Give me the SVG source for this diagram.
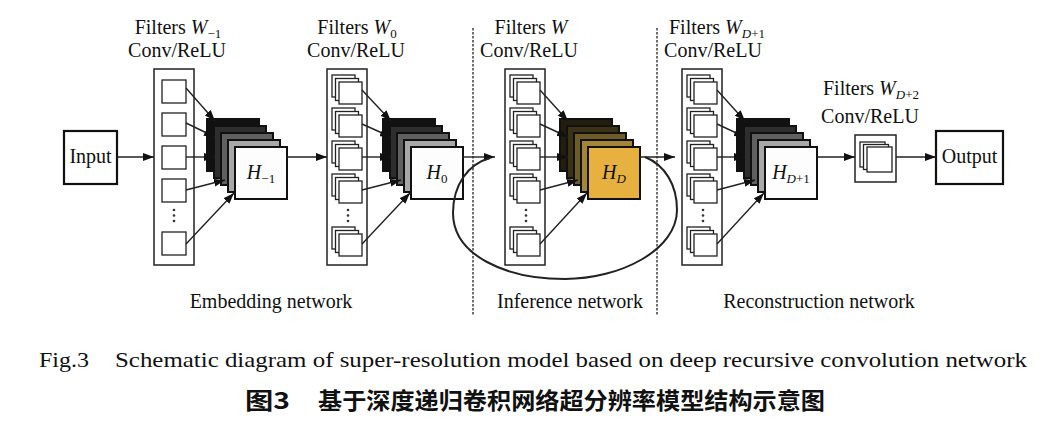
<svg xmlns="http://www.w3.org/2000/svg" width="1052" height="424" viewBox="0 0 1052 424">
<style>
text{font-family:"Liberation Serif","Times New Roman",serif;fill:#111;}
.lbl{font-size:20px;}
.it{font-style:italic;}
.sub{font-size:13px;}
.col{fill:#fff;stroke:#222;stroke-width:1.5;}
.sq{fill:#fff;stroke:#222;stroke-width:1.3;}
.lay{stroke:#111;stroke-width:2;}
.g1{fill:#111;}.g2{fill:#2e2e2e;}.g3{fill:#606060;}.g4{fill:#a8a8a8;}.g5{fill:#fdfdfd;}
.y1{fill:#221d0c;}.y2{fill:#3b3215;}.y3{fill:#6d5b28;}.y4{fill:#a48639;}.y5{fill:#e7b13f;}
.io{fill:#fff;stroke:#111;stroke-width:2.2;}
.dot{fill:#333;}
.conn{stroke:#222;stroke-width:1.4;fill:none;}
.dash{stroke:#333;stroke-width:1.4;stroke-dasharray:2.5 1.5;fill:none;}
.cap{font-size:21px;}
.cjk{font-family:"Noto Sans CJK SC","Noto Sans CJK JP",sans-serif;font-weight:bold;font-size:23px;}
</style>
<defs>
<marker id="ah" markerUnits="userSpaceOnUse" markerWidth="11" markerHeight="8" refX="11" refY="4" orient="auto">
<path d="M0,0 L11,4 L0,8 z" fill="#111"/>
</marker>
</defs>

<!-- dashed separators -->
<line class="dash" x1="473" y1="28" x2="473" y2="315"/>
<line class="dash" x1="657" y1="28" x2="657" y2="315"/>

<g id="input">
<rect class="io" x="64" y="131" width="53" height="53"/>
<text class="lbl" x="90.5" y="163" text-anchor="middle">Input</text>
</g>

<g id="filters-w-1">
<text class="lbl" x="178" y="34" text-anchor="middle">Filters <tspan class="it">W</tspan><tspan class="sub" dy="4">−1</tspan></text>
<text class="lbl" x="177" y="57" text-anchor="middle">Conv/ReLU</text>
<rect class="col" x="154" y="69" width="40" height="196"/>
<rect class="sq" x="162" y="80" width="24" height="23"/>
<rect class="sq" x="162" y="113" width="24" height="23"/>
<rect class="sq" x="162" y="146" width="24" height="23"/>
<rect class="sq" x="162" y="179" width="24" height="23"/>
<rect class="sq" x="162" y="232" width="24" height="23"/>
<circle class="dot" cx="174" cy="210" r="1.3"/><circle class="dot" cx="174" cy="215.5" r="1.3"/><circle class="dot" cx="174" cy="221" r="1.3"/>
</g>

<g id="stack-h-1">
<rect class="lay g1" x="207" y="119" width="52" height="52"/>
<rect class="lay g2" x="214" y="126" width="52" height="52"/>
<rect class="lay g3" x="221" y="133" width="52" height="52"/>
<rect class="lay g4" x="228" y="140" width="52" height="52"/>
<rect class="lay g5" x="235" y="147" width="52" height="52"/>
<text class="lbl" x="261" y="179" text-anchor="middle"><tspan class="it">H</tspan><tspan class="sub" dy="4">−1</tspan></text>
</g>

<g id="filters-w0">
<text class="lbl" x="357" y="34" text-anchor="middle">Filters <tspan class="it">W</tspan><tspan class="sub" dy="4">0</tspan></text>
<text class="lbl" x="356" y="57" text-anchor="middle">Conv/ReLU</text>
<rect class="col" x="327" y="69" width="40" height="196"/>
<g transform="translate(327,0)">
<rect class="sq" x="5" y="75" width="23" height="22"/><rect class="sq" x="8.5" y="78.5" width="23" height="22"/><rect class="sq" x="12" y="82" width="23" height="22"/>
<rect class="sq" x="5" y="108" width="23" height="22"/><rect class="sq" x="8.5" y="111.5" width="23" height="22"/><rect class="sq" x="12" y="115" width="23" height="22"/>
<rect class="sq" x="5" y="141" width="23" height="22"/><rect class="sq" x="8.5" y="144.5" width="23" height="22"/><rect class="sq" x="12" y="148" width="23" height="22"/>
<rect class="sq" x="5" y="174" width="23" height="22"/><rect class="sq" x="8.5" y="177.5" width="23" height="22"/><rect class="sq" x="12" y="181" width="23" height="22"/>
<rect class="sq" x="5" y="227" width="23" height="22"/><rect class="sq" x="8.5" y="230.5" width="23" height="22"/><rect class="sq" x="12" y="234" width="23" height="22"/>
<circle class="dot" cx="21" cy="210" r="1.3"/><circle class="dot" cx="21" cy="215.5" r="1.3"/><circle class="dot" cx="21" cy="221" r="1.3"/>
</g>
</g>

<g id="stack-h0">
<rect class="lay g1" x="383" y="119" width="52" height="52"/>
<rect class="lay g2" x="390" y="126" width="52" height="52"/>
<rect class="lay g3" x="397" y="133" width="52" height="52"/>
<rect class="lay g4" x="404" y="140" width="52" height="52"/>
<rect class="lay g5" x="411" y="147" width="52" height="52"/>
<text class="lbl" x="437" y="179" text-anchor="middle"><tspan class="it">H</tspan><tspan class="sub" dy="4">0</tspan></text>
</g>

<g id="filters-w">
<text class="lbl" x="531" y="34" text-anchor="middle">Filters <tspan class="it">W</tspan></text>
<text class="lbl" x="529" y="57" text-anchor="middle">Conv/ReLU</text>
<rect class="col" x="505" y="69" width="40" height="196"/>
<g transform="translate(505,0)">
<rect class="sq" x="5" y="75" width="23" height="22"/><rect class="sq" x="8.5" y="78.5" width="23" height="22"/><rect class="sq" x="12" y="82" width="23" height="22"/>
<rect class="sq" x="5" y="108" width="23" height="22"/><rect class="sq" x="8.5" y="111.5" width="23" height="22"/><rect class="sq" x="12" y="115" width="23" height="22"/>
<rect class="sq" x="5" y="141" width="23" height="22"/><rect class="sq" x="8.5" y="144.5" width="23" height="22"/><rect class="sq" x="12" y="148" width="23" height="22"/>
<rect class="sq" x="5" y="174" width="23" height="22"/><rect class="sq" x="8.5" y="177.5" width="23" height="22"/><rect class="sq" x="12" y="181" width="23" height="22"/>
<rect class="sq" x="5" y="227" width="23" height="22"/><rect class="sq" x="8.5" y="230.5" width="23" height="22"/><rect class="sq" x="12" y="234" width="23" height="22"/>
<circle class="dot" cx="21" cy="210" r="1.3"/><circle class="dot" cx="21" cy="215.5" r="1.3"/><circle class="dot" cx="21" cy="221" r="1.3"/>
</g>
</g>

<g id="stack-hd">
<rect class="lay y1" x="560" y="119" width="52" height="52"/>
<rect class="lay y2" x="567" y="126" width="52" height="52"/>
<rect class="lay y3" x="574" y="133" width="52" height="52"/>
<rect class="lay y4" x="581" y="140" width="52" height="52"/>
<rect class="lay y5" x="588" y="147" width="52" height="52"/>
<text class="lbl" x="614" y="179" text-anchor="middle"><tspan class="it">H</tspan><tspan class="sub it" dy="4">D</tspan></text>
</g>

<g id="filters-wd1">
<text class="lbl" x="717" y="34" text-anchor="middle">Filters <tspan class="it">W</tspan><tspan class="sub" dy="4"><tspan class="it">D</tspan>+1</tspan></text>
<text class="lbl" x="713" y="57" text-anchor="middle">Conv/ReLU</text>
<rect class="col" x="682" y="69" width="40" height="196"/>
<g transform="translate(682,0)">
<rect class="sq" x="5" y="75" width="23" height="22"/><rect class="sq" x="8.5" y="78.5" width="23" height="22"/><rect class="sq" x="12" y="82" width="23" height="22"/>
<rect class="sq" x="5" y="108" width="23" height="22"/><rect class="sq" x="8.5" y="111.5" width="23" height="22"/><rect class="sq" x="12" y="115" width="23" height="22"/>
<rect class="sq" x="5" y="141" width="23" height="22"/><rect class="sq" x="8.5" y="144.5" width="23" height="22"/><rect class="sq" x="12" y="148" width="23" height="22"/>
<rect class="sq" x="5" y="174" width="23" height="22"/><rect class="sq" x="8.5" y="177.5" width="23" height="22"/><rect class="sq" x="12" y="181" width="23" height="22"/>
<rect class="sq" x="5" y="227" width="23" height="22"/><rect class="sq" x="8.5" y="230.5" width="23" height="22"/><rect class="sq" x="12" y="234" width="23" height="22"/>
<circle class="dot" cx="21" cy="210" r="1.3"/><circle class="dot" cx="21" cy="215.5" r="1.3"/><circle class="dot" cx="21" cy="221" r="1.3"/>
</g>
</g>

<g id="stack-hd1">
<rect class="lay g1" x="737" y="119" width="52" height="52"/>
<rect class="lay g2" x="744" y="126" width="52" height="52"/>
<rect class="lay g3" x="751" y="133" width="52" height="52"/>
<rect class="lay g4" x="758" y="140" width="52" height="52"/>
<rect class="lay g5" x="765" y="147" width="52" height="52"/>
<text class="lbl" x="791" y="179" text-anchor="middle"><tspan class="it">H</tspan><tspan class="sub" dy="4"><tspan class="it">D</tspan>+1</tspan></text>
</g>

<g id="filters-wd2">
<text class="lbl" x="871" y="95" text-anchor="middle">Filters <tspan class="it">W</tspan><tspan class="sub" dy="4"><tspan class="it">D</tspan>+2</tspan></text>
<text class="lbl" x="870" y="123" text-anchor="middle">Conv/ReLU</text>
<rect class="col" x="855" y="135" width="41" height="47"/>
<rect class="sq" x="860" y="142" width="25" height="25"/>
<rect class="sq" x="863.5" y="144.5" width="25" height="25"/>
<rect class="sq" x="867" y="147" width="25" height="25"/>
</g>

<g id="output">
<rect class="io" x="936" y="131" width="67" height="53"/>
<text class="lbl" x="969.5" y="163" text-anchor="middle">Output</text>
</g>

<g id="connectors">
<line class="conn" x1="117" y1="157" x2="154" y2="157" marker-end="url(#ah)"/>
<line class="conn" x1="287" y1="157" x2="327" y2="157" marker-end="url(#ah)"/>
<line class="conn" x1="463" y1="157" x2="495" y2="157" marker-end="url(#ah)"/>
<line class="conn" x1="640" y1="157" x2="675" y2="157" marker-end="url(#ah)"/>
<line class="conn" x1="817" y1="157" x2="855" y2="157" marker-end="url(#ah)"/>
<line class="conn" x1="896" y1="157" x2="936" y2="157" marker-end="url(#ah)"/>
<!-- recursion loop -->
<path class="conn" style="stroke-width:2" d="M645,157 C665,165 677,185 677,210 C677,250 620,279 565,279 C505,279 453,255 453,213 C453,185 468,164 490,158"/>
<!-- embedding W-1 -->
<line class="conn" x1="186" y1="88" x2="215" y2="121" marker-end="url(#ah)"/>
<line class="conn" x1="186" y1="123" x2="215" y2="137" marker-end="url(#ah)"/>
<line class="conn" x1="186" y1="157" x2="215" y2="157" marker-end="url(#ah)"/>
<line class="conn" x1="186" y1="190" x2="225" y2="180" marker-end="url(#ah)"/>
<line class="conn" x1="186" y1="244" x2="234" y2="193" marker-end="url(#ah)"/>
<!-- W0 -->
<line class="conn" x1="362" y1="90" x2="391" y2="121" marker-end="url(#ah)"/>
<line class="conn" x1="362" y1="124" x2="391" y2="137" marker-end="url(#ah)"/>
<line class="conn" x1="362" y1="157" x2="391" y2="157" marker-end="url(#ah)"/>
<line class="conn" x1="362" y1="190" x2="401" y2="180" marker-end="url(#ah)"/>
<line class="conn" x1="362" y1="244" x2="410" y2="193" marker-end="url(#ah)"/>
<!-- W -->
<line class="conn" x1="540" y1="90" x2="568" y2="121" marker-end="url(#ah)"/>
<line class="conn" x1="540" y1="124" x2="568" y2="137" marker-end="url(#ah)"/>
<line class="conn" x1="540" y1="157" x2="568" y2="157" marker-end="url(#ah)"/>
<line class="conn" x1="540" y1="190" x2="578" y2="180" marker-end="url(#ah)"/>
<line class="conn" x1="540" y1="244" x2="587" y2="193" marker-end="url(#ah)"/>
<!-- WD+1 -->
<line class="conn" x1="717" y1="90" x2="745" y2="121" marker-end="url(#ah)"/>
<line class="conn" x1="717" y1="124" x2="745" y2="137" marker-end="url(#ah)"/>
<line class="conn" x1="717" y1="157" x2="745" y2="157" marker-end="url(#ah)"/>
<line class="conn" x1="717" y1="190" x2="755" y2="180" marker-end="url(#ah)"/>
<line class="conn" x1="717" y1="244" x2="764" y2="193" marker-end="url(#ah)"/>
</g>

<g id="section-labels">
<text class="lbl" x="271" y="308" text-anchor="middle">Embedding network</text>
<text class="lbl" x="570" y="308" text-anchor="middle">Inference network</text>
<text class="lbl" x="819" y="308" text-anchor="middle">Reconstruction network</text>
</g>

<g id="caption">
<text class="cap" x="39" y="367" textLength="50" lengthAdjust="spacingAndGlyphs">Fig.3</text>
<text class="cap" x="115" y="367" textLength="912" lengthAdjust="spacingAndGlyphs">Schematic diagram of super-resolution model based on deep recursive convolution network</text>
<text class="cjk" x="245" y="409" textLength="45" lengthAdjust="spacingAndGlyphs">图3</text>
<text class="cjk" x="318" y="409" textLength="507" lengthAdjust="spacingAndGlyphs">基于深度递归卷积网络超分辨率模型结构示意图</text>
</g>
</svg>
